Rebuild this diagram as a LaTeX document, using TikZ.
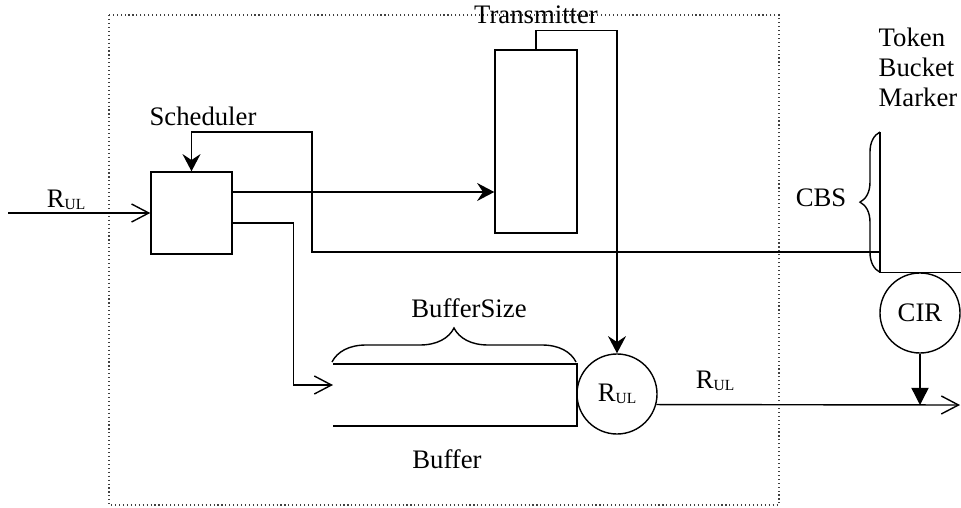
\documentclass[tikz,border=0pt]{standalone}
\usepackage{fontspec}
\setmainfont{Liberation Serif}
\usetikzlibrary{arrows.meta,calc,decorations.pathreplacing}
\newcommand{\rul}{R\raisebox{-1.6pt}{\fontsize{11}{11}\selectfont UL}}

\begin{document}
\begin{tikzpicture}[x=0.025cm,y=-0.025cm,line width=1pt,
  font=\fontsize{19}{21.3}\selectfont,
  box/.style={draw,rectangle,inner sep=0pt},
  rate/.style={draw,circle,minimum size=2cm,inner sep=0pt},
  lbl/.style={inner sep=0pt,anchor=base},
  open/.style={-{Straight Barb[length=0.43cm,width=0.45cm]}},
  feed/.style={-{Stealth[length=0.43cm,width=0.45cm,inset=0.15cm]}}]
\useasboundingbox (0,0) rectangle (961,507);
\draw[dotted,line width=0.8pt,black!75] (109,15) rectangle (779,505);

\node[box,minimum width=2.025cm,minimum height=2.05cm] (sched) at (191.5,213) {};
\node[box,minimum width=2.05cm,minimum height=4.575cm] (trans) at (536,141.5) {};
\node[rate] (rulc) at (617,394) {\rul};
\node[rate] (cir) at (920,313) {CIR};

\node[lbl] (schedlbl) at (203,125) {Scheduler};
\node[lbl] (translbl) at (536,23) {Transmitter};
\node[lbl] (inlbl) at (66,207) {\rul};
\node[lbl] (outlbl) at (715,388) {\rul};
\node[lbl] (sizelbl) at (469,317) {BufferSize};
\node[lbl] (buflbl) at (447,468) {Buffer};
\node[lbl] (cbslbl) at (821,206) {CBS};
\node[inner sep=0pt,anchor=north west,align=left] (tbmlbl) at (878,27) {Token\\Bucket\\Marker};

\coordinate (in) at (8,213);
\coordinate (s1) at ($(sched.east)+(0,-21)$);
\coordinate (bufin) at (333,385);
\coordinate (out) at (960,405);
\coordinate (tb) at (880,132);
\coordinate (cbs) at (880,252);

\draw[open] (in) -- (sched.west);
\draw[feed] (s1) -- (s1 -| trans.west);
\draw[open] ($(sched.east)+(0,10)$) -- ++(61,0) |- (bufin);
\draw[feed] (cbs) -- (312,252) -- (312,132) -| (sched.north);
\draw[feed] (trans.north) -- ++(0,-19) -| (rulc.north);

\draw (333,364) -- (577,364) -- (577,426) -- (333,426);
\draw[decorate,decoration={brace,amplitude=0.85cm}] (332,362) -- (576,362);

\draw[open] (rulc.-15) -- (out);
\draw[-{Triangle[length=0.43cm,width=0.43cm]}] (cir.south) -- (cir.south |- out);

\draw (tb) |- ($(cir.north)+(41,0)$);
\draw[decorate,decoration={brace,amplitude=0.5cm}] (tb |- cir.north) -- (tb);
\end{tikzpicture}
\end{document}
